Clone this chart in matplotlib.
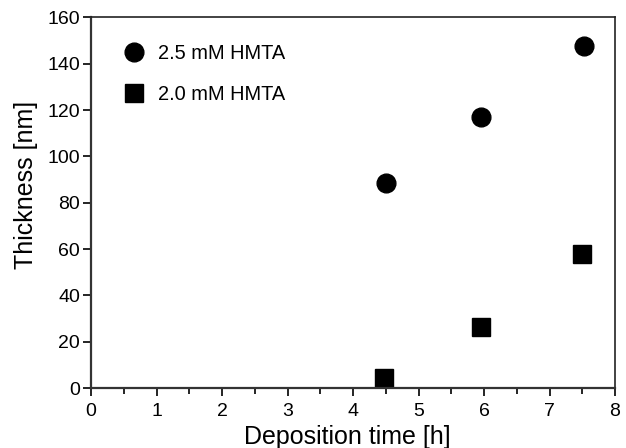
import matplotlib
matplotlib.use("Agg")
import matplotlib.pyplot as plt
from matplotlib.ticker import MultipleLocator

plt.rcParams["font.family"] = ["Liberation Sans", "DejaVu Sans"]

# data
time_25 = [4.5, 5.96, 7.52]
thick_25 = [88.7, 117.2, 147.5]
time_20 = [4.48, 5.96, 7.5]
thick_20 = [4.3, 26.2, 58.0]

fig = plt.figure(figsize=(6.26, 4.48), dpi=100)
ax = fig.add_axes([91 / 626, 60 / 448, 524 / 626, 370.5 / 448])

ax.plot(time_25, thick_25, "o", color="black", markersize=13.5, label="2.5 mM HMTA")
ax.plot(time_20, thick_20, "s", color="black", markersize=13, label="2.0 mM HMTA")

ax.set_xlim(0, 8)
ax.set_ylim(0, 160)
ax.xaxis.set_major_locator(MultipleLocator(1))
ax.xaxis.set_minor_locator(MultipleLocator(0.5))
ax.yaxis.set_major_locator(MultipleLocator(20))

ax.tick_params(axis="both", which="major", direction="out", length=6, width=1.2,
               labelsize=14, colors="black", pad=2)
ax.tick_params(axis="x", which="major", pad=5)
ax.tick_params(axis="x", which="minor", direction="out", length=4, width=1.2)
ax.tick_params(axis="y", which="minor", left=False)

for side in ["left", "bottom"]:
    ax.spines[side].set_linewidth(1.6)
    ax.spines[side].set_color("#333333")
for side in ["top", "right"]:
    ax.spines[side].set_linewidth(1.2)
    ax.spines[side].set_color("#222222")

ax.set_xlabel("Deposition time [h]", fontsize=18)
ax.xaxis.set_label_coords(0.49, -0.1)
ax.set_ylabel("Thickness [nm]", fontsize=18)
ax.yaxis.set_label_coords(-0.101, 0.548)

ax.legend(loc="upper left", frameon=False, fontsize=14.4, handletextpad=0.2,
          labelspacing=1.1, borderaxespad=0.6, bbox_to_anchor=(0.006, 0.982))

plt.savefig("out.png", dpi=100)
